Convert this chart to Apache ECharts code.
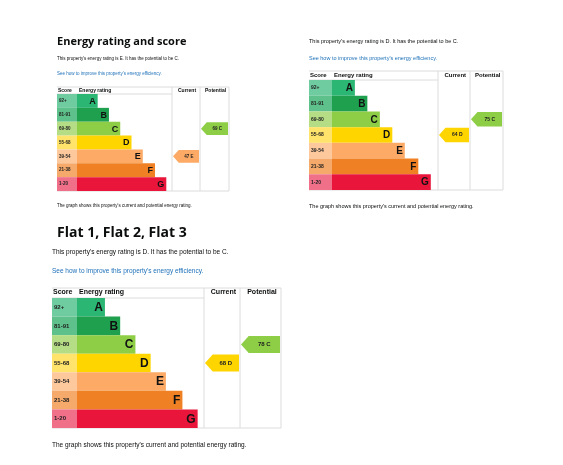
<!DOCTYPE html>
<html><head><meta charset="utf-8">
<script src="https://cdn.jsdelivr.net/npm/echarts@6/dist/echarts.min.js"></script>
<style>html,body{margin:0;padding:0;background:#fff}#c{width:563px;height:465px}</style>
</head><body><div id="c"></div>
<script>
const bands = ['A','B','C','D','E','F','G'];
const scoreLabels = ['92+','81-91','69-80','55-68','39-54','21-38','1-20'];
const bandWidths = [0.22,0.34,0.46,0.58,0.70,0.83,0.95];
const bandColors = ['#2bb673','#1fa04f','#8dce46','#ffd500','#fcaa65','#ef8023','#e9153b'];
const scoreColors = ['#6fcba0','#5ec08a','#b5dd85','#ffe36b','#fdc89b','#f5a96a','#f0708a'];
const currentScores = [47, 64, 68];
const currentBands = ['E','D','D'];
const potentialScores = [69, 75, 78];
const potentialBands = ['C','C','C'];

// layout per chart (px)
const L = [
 {left:57, headTop:87, top:94, bottom:191, scoreW:20, barW:94, cur:[172,200], pot:[200,229], fs:4.5, bandFs:9, head:5},
 {left:309, headTop:71, top:80, bottom:190, scoreW:23, barW:104, cur:[438,470], pot:[470,503], fs:5, bandFs:10, head:6},
 {left:52, headTop:288, top:298, bottom:428, scoreW:25, barW:127, cur:[204,240], pot:[240,281], fs:6, bandFs:12, head:7}
];

const chart = echarts.init(document.getElementById('c'), null, {renderer:'canvas'});
const grids=[], xAxes=[], yAxes=[], series=[];
L.forEach((g,i)=>{
  const right = g.pot[1];
  grids.push({left:g.left, top:g.top, width:right-g.left, height:g.bottom-g.top});
  xAxes.push({gridIndex:i, type:'value', min:g.left, max:right, show:false});
  yAxes.push({gridIndex:i, type:'category', data:bands, inverse:true, show:false});
  const rows = bands.map((b,k)=>[k]);
  // score cells + bars
  series.push({type:'custom', xAxisIndex:i, yAxisIndex:i, data:rows, silent:true,
    renderItem:(p,api)=>{
      const k=api.value(0);
      const c0=api.coord([g.left,k]); const h=api.size([0,1])[1];
      const y=c0[1]-h/2;
      const xs=g.left+g.scoreW;
      const bx=api.coord([xs,k])[0];
      const bw=g.barW*bandWidths[k];
      return {type:'group',children:[
        {type:'rect',shape:{x:c0[0],y:y,width:bx-c0[0],height:h},style:{fill:scoreColors[k]}},
        {type:'text',style:{x:c0[0]+2,y:c0[1],text:scoreLabels[k],font:'bold '+g.fs+'px Arial',fill:'#222',verticalAlign:'middle'}},
        {type:'rect',shape:{x:bx,y:y,width:bw,height:h},style:{fill:bandColors[k]}},
        {type:'text',style:{x:bx+bw-2,y:c0[1]+0.5,text:bands[k],font:'bold '+g.bandFs+'px Arial',fill:'#111',align:'right',verticalAlign:'middle'}}
      ]};
    }});
  // arrows
  const arr=[[currentScores[i],bands.indexOf(currentBands[i]),0],[potentialScores[i],bands.indexOf(potentialBands[i]),1]];
  series.push({type:'custom', xAxisIndex:i, yAxisIndex:i, data:arr, silent:true,
    renderItem:(p,api)=>{
      const s=api.value(0),k=api.value(1),which=api.value(2);
      const col=which?g.pot:g.cur;
      const c=api.coord([col[0]+1,k]); const h=api.size([0,1])[1]*0.92;
      const x0=c[0], x1=api.coord([col[1]-1,k])[0], t=h*0.45, yc=c[1];
      const lab=which?potentialBands[i]:currentBands[i];
      return {type:'group',children:[
        {type:'polygon',shape:{points:[[x0,yc],[x0+t,yc-h/2],[x1,yc-h/2],[x1,yc+h/2],[x0+t,yc+h/2]]},style:{fill:bandColors[k]}},
        {type:'text',style:{x:(x0+t+x1)/2,y:yc,text:s+' '+lab,font:'bold '+g.fs+'px Arial',fill:'#222',align:'center',verticalAlign:'middle'}}
      ]};
    }});
});

// static text + table lines
const gfx=[];
function txt(x,y,t,font,fill){gfx.push({type:'text',left:x,top:y,style:{text:t,font:font,fill:fill||'#0b0c0c'}});}
txt(57,36,'Energy rating and score','bold 11px "Open Sans", Arial');
txt(57,56,"This property's energy rating is E. It has the potential to be C.",'4.5px Arial');
txt(57,71,"See how to improve this property's energy efficiency.",'4.5px Arial','#1d70b8');
txt(57,203,"The graph shows this property's current and potential energy rating.",'4.5px Arial');
txt(309,38,"This property's energy rating is D. It has the potential to be C.",'5.5px Arial');
txt(309,55,"See how to improve this property's energy efficiency.",'5.5px Arial','#1d70b8');
txt(309,203,"The graph shows this property's current and potential energy rating.",'5.5px Arial');
txt(57,226,'Flat 1, Flat 2, Flat 3','bold 14px "Open Sans", Arial');
txt(52,249,"This property's energy rating is D. It has the potential to be C.",'6.5px Arial');
txt(52,268,"See how to improve this property's energy efficiency.",'6.5px Arial','#1d70b8');
txt(52,442,"The graph shows this property's current and potential energy rating.",'6.5px Arial');
L.forEach(g=>{
  const hf='bold '+g.head+'px Arial';
  const hy=g.headTop+1;
  txt(g.left+1,hy,'Score',hf); txt(g.left+g.scoreW+2,hy,'Energy rating',hf);
  gfx.push({type:'text',left:(g.cur[0]+g.cur[1])/2-g.head*1.6,top:hy,style:{text:'Current',font:hf,fill:'#0b0c0c'}});
  gfx.push({type:'text',left:(g.pot[0]+g.pot[1])/2-g.head*1.9,top:hy,style:{text:'Potential',font:hf,fill:'#0b0c0c'}});
  const ls={stroke:'#dcdcdc',lineWidth:1};
  [[g.left,g.headTop,g.pot[1],g.headTop],[g.left,g.top,g.cur[0],g.top],[g.left,g.bottom,g.pot[1],g.bottom],
   [g.cur[0],g.headTop,g.cur[0],g.bottom],[g.pot[0],g.headTop,g.pot[0],g.bottom],[g.pot[1],g.headTop,g.pot[1],g.bottom]]
   .forEach(l=>gfx.push({type:'line',shape:{x1:l[0],y1:l[1],x2:l[2],y2:l[3]},style:ls,z:-1}));
});

chart.setOption({animation:false, grid:grids, xAxis:xAxes, yAxis:yAxes, series:series, graphic:gfx});
</script></body></html>
